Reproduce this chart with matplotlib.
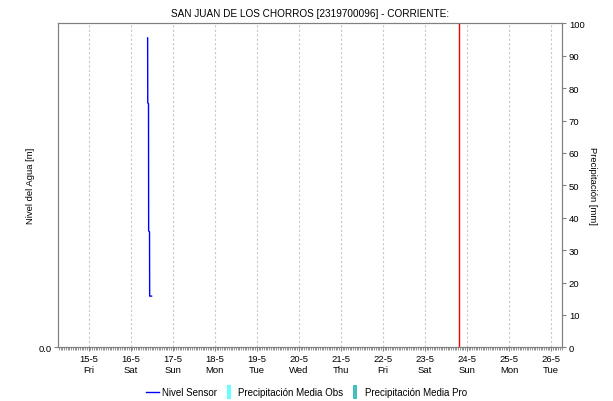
import matplotlib
matplotlib.use("Agg")
import matplotlib.pyplot as plt
import matplotlib.dates as mdates
from matplotlib.lines import Line2D
import pandas as pd

plt.rcParams["font.family"] = ["Liberation Sans", "DejaVu Sans"]

titulo = "SAN JUAN DE LOS CHORROS [2319700096] - CORRIENTE:"

# nivel del sensor (lecturas del 16-5)
t_nivel = pd.to_datetime(["2020-05-16 09:40", "2020-05-16 09:45", "2020-05-16 10:10",
                          "2020-05-16 10:15", "2020-05-16 10:45", "2020-05-16 10:50",
                          "2020-05-16 11:55"])
nivel = [0.955, 0.754, 0.752, 0.359, 0.357, 0.158, 0.158]

# precipitacion: sin datos en el periodo
t_prec = pd.to_datetime([])
prec_obs = []
prec_pro = []

ahora = pd.Timestamp("2020-05-23 19:30")
x_ini = pd.Timestamp("2020-05-14 06:40")
x_fin = pd.Timestamp("2020-05-26 06:15")

dias = pd.date_range("2020-05-15", "2020-05-26", freq="D")
dias_lbl = ["%d-%d\n%s" % (d.day, d.month, d.strftime("%a")) for d in dias]

gris = "#808080"

fig = plt.figure(figsize=(6.13, 4.02), dpi=100)
ax = fig.add_axes([58.3 / 613, 1 - 348.3 / 402, (562 - 58.3) / 613, 324 / 402])
ax2 = ax.twinx()

ax.plot(t_nivel, nivel, color="#0000ff", lw=1.0)
ax2.bar(t_prec, prec_obs, color="#66ffff", width=0.04)
ax2.bar(t_prec, prec_pro, color="#40c0c0", width=0.04)
ax.axvline(ahora, color="#ee0000", lw=1.0)

ax.set_xlim(x_ini, x_fin)
ax.set_ylim(0, 1.0)
ax2.set_ylim(0, 100)

ax.set_xticks(dias)
ax.set_xticklabels(dias_lbl, fontsize=6.8)
ax.xaxis.set_minor_locator(mdates.HourLocator())
ax.tick_params(axis="x", which="major", length=3, color=gris, pad=2)
ax.tick_params(axis="x", which="minor", length=2, color=gris, width=0.6)
ax.grid(axis="x", which="major", color="#c8c8c8", ls=(0, (2, 2)), lw=0.8)

ax.set_yticks([0])
ax.set_yticklabels(["0.0"], fontsize=6.8)
ax.tick_params(axis="y", length=3, color=gris, pad=2)
ax2.set_yticks(range(0, 101, 10))
ax2.tick_params(axis="y", length=3, color=gris, labelsize=6.8, pad=2)

for a in (ax, ax2):
    for s in a.spines.values():
        s.set_color(gris)

ax.set_ylabel("Nivel del Agua [m]", fontsize=6.8)
ax.yaxis.set_label_coords(-0.046, 0.5)
ax2.set_ylabel("Precipitación [mm]", fontsize=6.8, rotation=270, va="center")
ax2.yaxis.set_label_coords(1.0615, 0.5)
ax.set_title(titulo, fontsize=7.2, pad=5)

barra = [(-0.27, -1), (0.27, -1), (0.27, 1), (-0.27, 1)]
handles = [
    Line2D([], [], color="#0000ff", lw=1.0),
    Line2D([], [], ls="none", marker=barra, markersize=9.5, color="#66ffff", markeredgewidth=0),
    Line2D([], [], ls="none", marker=barra, markersize=9.5, color="#40c0c0", markeredgewidth=0),
]
labels = ["Nivel Sensor", "Precipitación Media Obs", "Precipitación Media Pro"]
fig.legend(handles, labels, loc="center", bbox_to_anchor=(0.5, 1 - 393 / 402), ncol=3,
           frameon=False, fontsize=7, handlelength=1.3, handletextpad=0.3,
           columnspacing=0.6)

fig.savefig("out.png", dpi=100)
